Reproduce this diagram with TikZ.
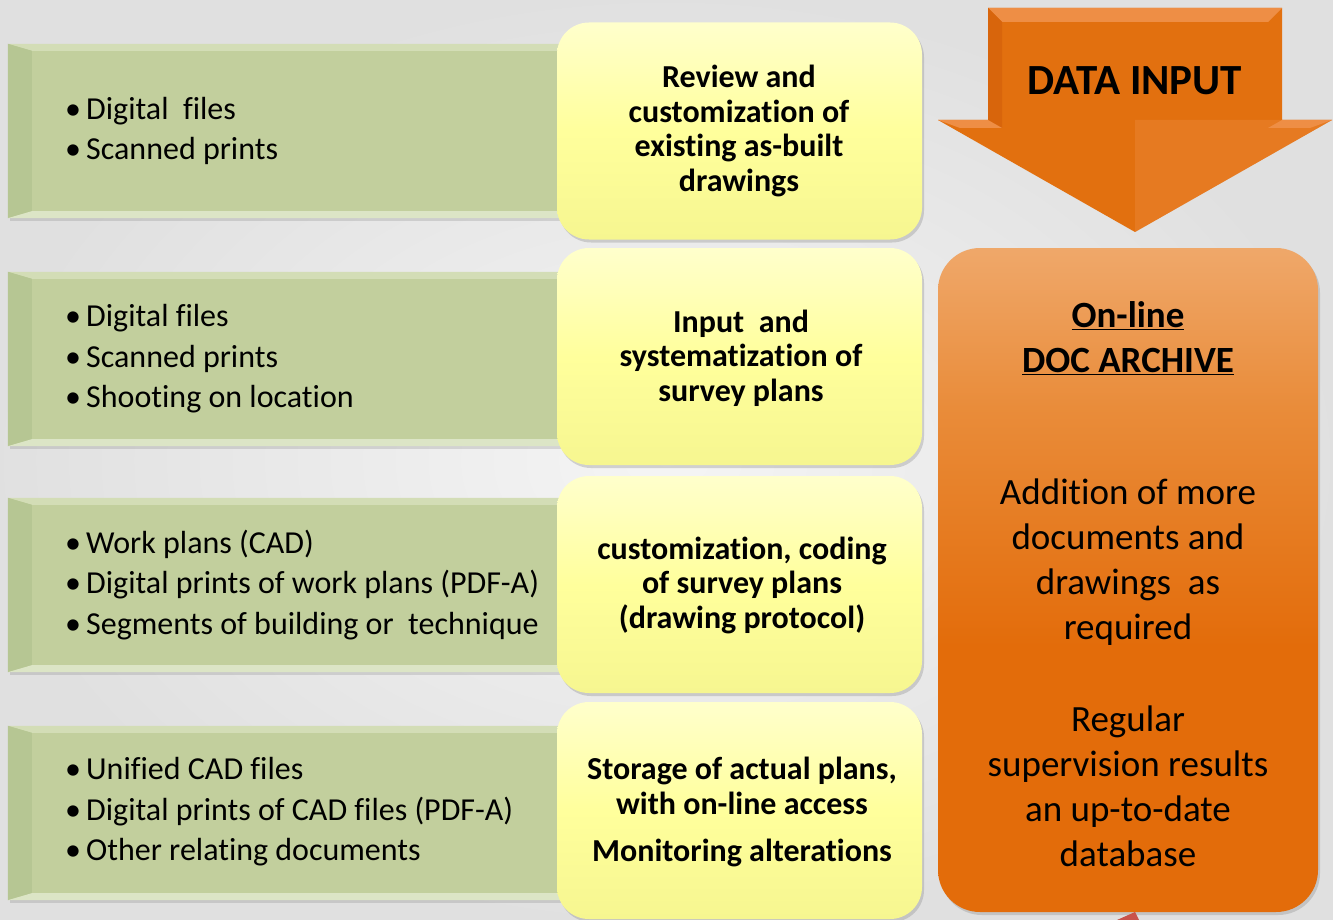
\documentclass[tikz,border=0pt]{standalone}
\usepackage{fontspec}
\setmainfont[Ligatures=NoCommon]{Carlito}
\usetikzlibrary{calc,shadows}
\definecolor{grn}{HTML}{C2CF9D}
\definecolor{grnL}{HTML}{D3DDB6}
\definecolor{grnD}{HTML}{B6C693}
\definecolor{grnB}{HTML}{DCE5C6}
\definecolor{ylT}{HTML}{FFFFCC}
\definecolor{ylM}{HTML}{FFFF9C}
\definecolor{ylB}{HTML}{F6F690}
\definecolor{orB}{HTML}{E36C0A}
\definecolor{orM1}{HTML}{E98C3A}
\definecolor{orM2}{HTML}{F3B886}
\definecolor{orT}{HTML}{F8CDA6}
\definecolor{orW}{HTML}{FCE8D6}
\definecolor{arr}{HTML}{E2700F}
\definecolor{arrL}{HTML}{EE8E45}
\definecolor{arrD}{HTML}{D8650C}
\definecolor{redfrag}{HTML}{C9534B}
\pgfdeclareverticalshading{orbox}{100bp}{color(0bp)=(orB); color(45bp)=(orB); color(63bp)=(orM1); color(82bp)=(orM2); color(95bp)=(orT); color(100bp)=(orW)}
\newcommand{\bul}[1]{\makebox[21pt][l]{•}#1}
\begin{document}
\begin{tikzpicture}[x=1pt,y=-1pt,
  greenbox/.style={rectangle, minimum width=557pt, minimum height=174pt, inner sep=0pt, fill=grn,
     drop shadow={shadow xshift=2pt, shadow yshift=-3pt, opacity=0.25}},
  yellowbox/.style={rectangle, rounded corners=32pt, minimum width=365pt, minimum height=217pt, inner sep=0pt,
     top color=ylT, bottom color=ylB, middle color=ylM,
     drop shadow={shadow xshift=2pt, shadow yshift=-3pt, opacity=0.3}},
  bullets/.style={anchor=west, align=left, inner sep=0pt, font=\fontsize{32}{40.5}\selectfont},
  ytext/.style={align=center, inner sep=0pt, font=\fontsize{32}{34.5}\selectfont\bfseries},
  otext/.style={align=center, inner sep=0pt, font=\fontsize{37}{45}\selectfont}
]
\useasboundingbox (0,0) rectangle (1333,920);
\shade[inner color=gray!8, outer color=gray!24] (0,0) rectangle (1333,920);

% green boxes
\foreach \n/\y in {g1/131, g2/359, g3/585, g4/813} {
  \node[greenbox] (\n) at (286.5,\y) {};
  \fill[grnL] (\n.north west) -- (\n.north east) -- ($(\n.north east)+(0,7)$) -- ($(\n.north west)+(24,7)$) -- cycle;
  \fill[grnD] (\n.north west) -- ($(\n.north west)+(24,7)$) -- ($(\n.south west)+(24,-7)$) -- (\n.south west) -- cycle;
  \fill[grnB] (\n.south west) -- ($(\n.south west)+(24,-7)$) -- ($(\n.south east)+(0,-7)$) -- (\n.south east) -- cycle;
}

% yellow boxes
\node[yellowbox] (y1) at (739.5,131) {};
\node[yellowbox] (y2) at (739.5,356.5) {};
\node[yellowbox] (y3) at (739.5,584.5) {};
\node[yellowbox] (y4) at (739.5,810.5) {};

% orange archive box
\node[rectangle, rounded corners=42pt, minimum width=380pt, minimum height=664pt, inner sep=0pt,
  shading=orbox, drop shadow={shadow xshift=2pt, shadow yshift=-3pt, opacity=0.3}] (arch) at (1128,580) {};

% data input arrow
\coordinate (tip) at (1135,232);
\fill[arr] (988,8) -- (1282,8) -- (1282,120) -- (1332,120) -- (tip) -- (938,120) -- (988,120) -- cycle;
\fill[arrL, opacity=0.35] (1135,120) -- (1332,120) -- (tip) -- cycle;
\fill[arrL] (988,8) -- (1282,8) -- (1268,22) -- (1002,22) -- cycle;
\fill[arrD] (988,8) -- (1002,22) -- (1002,128) -- (988,120) -- cycle;
\fill[arrL] (938,120) -- (988,120) -- (1002,128) -- (960,128) -- cycle;
\fill[arrL] (1282,120) -- (1332,120) -- (1310,128) -- (1268,128) -- cycle;
\node[inner sep=0pt, font=\fontsize{43}{50}\selectfont\bfseries] (din) at (1135,81) {DATA INPUT};

% red fragment
\fill[redfrag] (1117,920) -- (1135,912) -- (1139,920) -- cycle;

% green texts
\node[bullets] (t1) at (65,131) {\bul{Digital\ \ files}\\ \bul{Scanned prints}};
\node[bullets] (t2) at (65,359) {\bul{Digital files}\\ \bul{Scanned prints}\\ \bul{Shooting on location}};
\node[bullets] (t3) at (65,585) {\bul{Work plans (CAD)}\\ \bul{Digital prints of work plans (PDF-A)}\\ \bul{Segments of building or\ \ technique}};
\node[bullets] (t4) at (65,812) {\bul{Unified CAD files}\\ \bul{Digital prints of CAD files (PDF-A)}\\ \bul{Other relating documents}};

% yellow texts
\node[ytext] (u1) at (739,131) {Review and\\ customization of\\ existing as-built\\ drawings};
\node[ytext] (u2) at (741,358) {Input\ \ and\\ systematization of\\ survey plans};
\node[ytext] (u3) at (742,585) {customization, coding\\ of survey plans\\ (drawing protocol)};
\node[ytext] (u4) at (742,812) {Storage of actual plans,\\ with on-line access\\[13pt] Monitoring alterations};

% orange texts
\node[inner sep=0pt, align=center, font=\fontsize{37}{45}\selectfont\bfseries] (o1) at (1128,338) {\underline{On-line}\\ \underline{DOC ARCHIVE}};
\node[otext] (o2) at (1128,562) {Addition of more\\ documents and\\ drawings\ \ as\\ required};
\node[otext] (o3) at (1128,786) {Regular\\ supervision results\\ an up-to-date\\ database};
\end{tikzpicture}
\end{document}
